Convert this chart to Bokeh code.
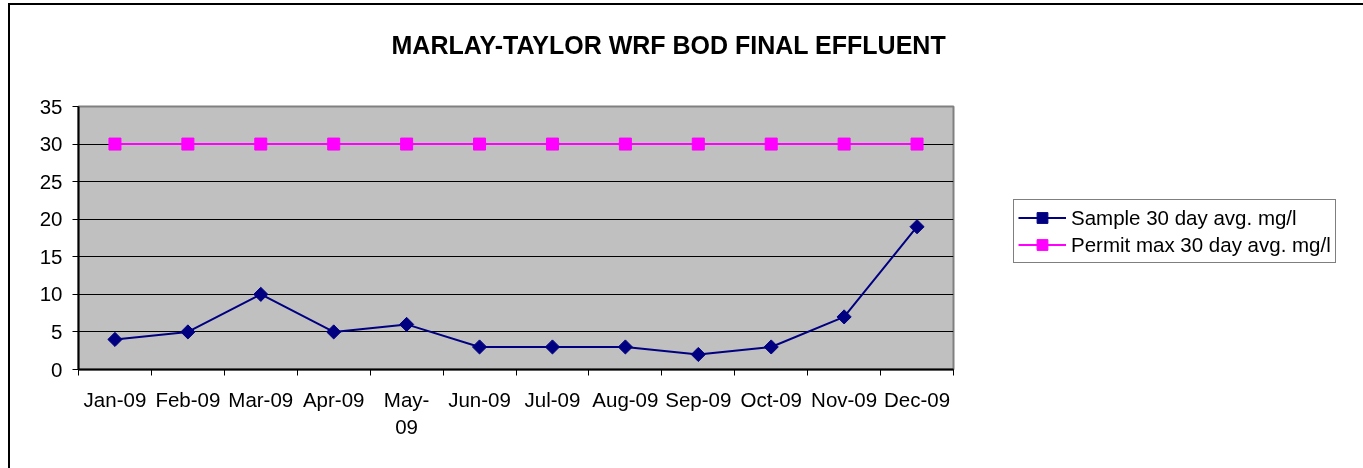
import numpy as np
from bokeh.plotting import figure
from bokeh.models import (Range1d, FixedTicker, SingleIntervalTicker, Legend, LegendItem,
                          ColumnDataSource, LinearAxis, CustomJSTickFormatter)
from bokeh.embed import file_html
from bokeh.resources import INLINE

# ---- data ----
months = ["Jan-09", "Feb-09", "Mar-09", "Apr-09", "May-09", "Jun-09",
          "Jul-09", "Aug-09", "Sep-09", "Oct-09", "Nov-09", "Dec-09"]
month_labels = ["Jan-09", "Feb-09", "Mar-09", "Apr-09", "May-\n09", "Jun-09",
                "Jul-09", "Aug-09", "Sep-09", "Oct-09", "Nov-09", "Dec-09"]
sample = [4, 5, 10, 5, 6, 3, 3, 3, 2, 3, 7, 19]
permit = [30, 30, 30, 30, 30, 30, 30, 30, 30, 30, 30, 30]
title_text = "MARLAY-TAYLOR WRF BOD FINAL EFFLUENT"
sample_name = "Sample 30 day avg. mg/l"
permit_name = "Permit max 30 day avg. mg/l"

FONT = "Liberation Sans"
FS = "20.5px"

xpos = [i + 0.5 for i in range(len(months))]
src = ColumnDataSource(dict(x=xpos, sample=sample, permit=permit, month=months))

W, H = 1760, 470
FL, FR, FT, FB = 68, 943, 101, 364

p = figure(width=W, height=H, output_backend="svg", toolbar_location=None,
           x_range=Range1d(0, len(months)), y_range=Range1d(0, 35),
           min_border_left=FL, min_border_right=W - FR,
           min_border_top=FT, min_border_bottom=H - FB)
p.styles = {"position": "fixed", "left": "8px", "top": "3px",
            "border-left": "2px solid #000000", "border-top": "2px solid #000000"}

p.background_fill_color = "#C0C0C0"
p.border_fill_color = "white"
p.outline_line_color = "#808080"
p.outline_line_width = 2

# title
p.title.text = title_text
p.title.text_font = FONT
p.title.text_font_size = "25px"
p.title.text_font_style = "bold"
p.title.text_color = "black"
p.title.align = "left"
p.title.offset = 313
p.title.vertical_align = "top"
p.title.standoff = 50

blank = CustomJSTickFormatter(code="return ''")
# spacer between title and plot area (no visible ticks or labels)
spacer = LinearAxis(ticker=FixedTicker(ticks=[6]), formatter=blank,
                    axis_line_color=None, major_tick_line_color=None,
                    minor_tick_line_color=None, major_tick_out=21, major_tick_in=0,
                    minor_tick_out=0, minor_tick_in=0, major_label_standoff=0)
p.add_layout(spacer, "above")

# axes
p.xgrid.visible = False
p.ygrid.grid_line_color = "#000000"
p.ygrid.grid_line_width = 1

yax = p.left[0]
yax.ticker = SingleIntervalTicker(interval=5)
yax.axis_line_color = "black"
yax.axis_line_width = 2
yax.major_tick_out = 6
yax.major_tick_in = 0
yax.minor_tick_out = 0
yax.minor_tick_in = 0
yax.major_label_standoff = 10
yax.major_label_text_font = FONT
yax.major_label_text_font_size = FS
yax.major_label_text_color = "black"

xax = p.below[0]
xax.ticker = FixedTicker(ticks=xpos, minor_ticks=list(range(len(months) + 1)))
xax.major_label_overrides = {x: lab for x, lab in zip(xpos, month_labels)}
xax.axis_line_color = "black"
xax.axis_line_width = 2
xax.major_tick_out = 0
xax.major_tick_in = 0
xax.minor_tick_out = 6
xax.minor_tick_in = 0
xax.minor_tick_line_color = "black"
xax.major_label_standoff = 12
xax.major_label_text_font = FONT
xax.major_label_text_font_size = FS
xax.major_label_text_color = "black"

# series
l1 = p.line("x", "sample", source=src, line_color="#000080", line_width=2)
m1 = p.scatter("x", "sample", source=src, marker="square", size=10, angle=np.pi / 4,
               fill_color="#000080", line_color="#000080")
l2 = p.line("x", "permit", source=src, line_color="#FF00FF", line_width=2)
m2 = p.scatter("x", "permit", source=src, marker="square", size=12,
               fill_color="#FF00FF", line_color="#FF00FF")

legend = Legend(items=[LegendItem(label=sample_name, renderers=[l1, m1]),
                       LegendItem(label=permit_name, renderers=[l2, m2])],
                location=(60, 106))
legend.label_text_font = FONT
legend.label_text_font_size = FS
legend.label_text_color = "black"
legend.glyph_width = 48
legend.glyph_height = 27
legend.label_height = 27
legend.label_standoff = 5
legend.padding = 4
legend.spacing = 0
legend.margin = 0
legend.border_line_color = "black"
legend.border_line_width = 1
legend.background_fill_color = "white"
legend.background_fill_alpha = 1
p.add_layout(legend, "right")

open("out.html", "w").write(file_html(p, INLINE))
